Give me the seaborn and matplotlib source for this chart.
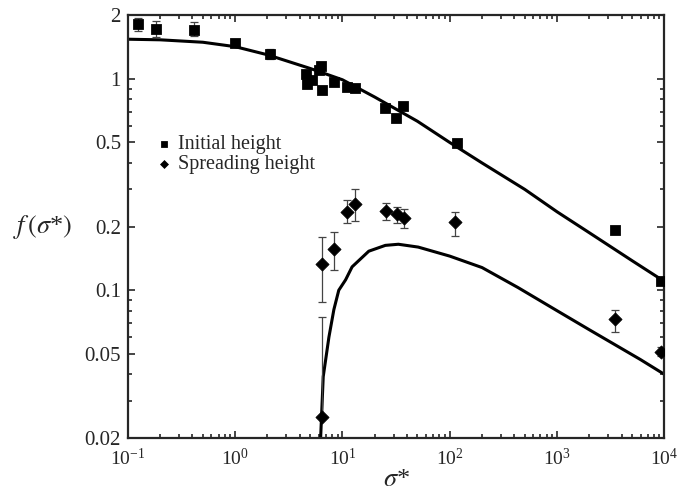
import numpy as np
import pandas as pd
import matplotlib
matplotlib.use("Agg")
import matplotlib.pyplot as plt
from matplotlib.ticker import FixedLocator, NullFormatter, LogLocator
import seaborn as sns

# --- data ---
# initial height (squares)
init_x = [0.125, 0.184, 0.412, 1.0, 2.12, 4.6, 4.7, 5.24, 6.04, 6.3, 6.4, 8.32,
          11.06, 13.2, 25.1, 31.7, 36.6, 115.9, 3459, 9250]
init_y = [1.81, 1.73, 1.71, 1.48, 1.31, 1.05, 0.95, 0.985, 1.10, 1.15, 0.89, 0.97,
          0.916, 0.905, 0.724, 0.656, 0.745, 0.498, 0.192, 0.111]
init_hi = [1.93, 1.88, 1.85, 1.48, 1.39, 1.05, 0.95, 0.985, 1.10, 1.18, 0.92, 0.97,
           0.916, 0.905, 0.724, 0.656, 0.745, 0.51, 0.198, 0.111]
init_lo = [1.69, 1.57, 1.60, 1.48, 1.24, 1.05, 0.95, 0.985, 1.10, 1.12, 0.87, 0.97,
           0.916, 0.905, 0.724, 0.656, 0.745, 0.485, 0.186, 0.111]

# spreading height (diamonds)
spread_x = [6.4, 6.4, 8.32, 11.1, 13.2, 25.4, 32.1, 37.1, 112, 3459, 9250]
spread_y = [0.0252, 0.133, 0.156, 0.235, 0.255, 0.238, 0.229, 0.219, 0.21, 0.0728, 0.0512]
spread_hi = [0.0744, 0.178, 0.188, 0.266, 0.300, 0.258, 0.247, 0.242, 0.235, 0.081, 0.054]
spread_lo = [0.0252, 0.088, 0.125, 0.207, 0.213, 0.216, 0.209, 0.196, 0.18, 0.0637, 0.049]

# model curves
curve1_x = [0.1, 0.2, 0.5, 1, 2, 5, 10, 20, 50, 100, 200, 500, 1000, 2000, 5000, 10000]
curve1_y = [1.54, 1.53, 1.49, 1.42, 1.30, 1.12, 0.99, 0.82, 0.63, 0.50, 0.40, 0.30,
            0.235, 0.187, 0.138, 0.11]
curve2_x = [6.26, 6.62, 7.48, 8.32, 9.24, 10.7, 12.3, 17.6, 25.1, 33.2, 50.8, 100,
            200, 432, 1000, 2000, 5980, 10000]
curve2_y = [0.02, 0.039, 0.060, 0.081, 0.100, 0.112, 0.129, 0.153, 0.163, 0.165,
            0.160, 0.145, 0.128, 0.103, 0.080, 0.065, 0.047, 0.040]

ytick_vals = [0.02, 0.05, 0.1, 0.2, 0.5, 1, 2]
ytick_labels = ["0.02", "0.05", "0.1", "0.2", "0.5", "1", "2"]

sns.set_style("ticks")
plt.rcParams["font.family"] = ["Liberation Serif", "DejaVu Serif"]
plt.rcParams["mathtext.fontset"] = "stix"

fig = plt.figure(figsize=(6.8, 4.91), dpi=100)
ax = fig.add_axes([0.188, 0.108, 0.789, 0.861])
ax.set_xscale("log")
ax.set_yscale("log")

c1 = pd.DataFrame({"x": curve1_x, "y": curve1_y})
c2 = pd.DataFrame({"x": curve2_x, "y": curve2_y})
sns.lineplot(data=c1, x="x", y="y", ax=ax, color="black", lw=2.2, sort=False, estimator=None)
sns.lineplot(data=c2, x="x", y="y", ax=ax, color="black", lw=2.2, sort=False, estimator=None)

init_y_a = np.array(init_y)
spread_y_a = np.array(spread_y)
ax.errorbar(init_x, init_y, yerr=[init_y_a - np.array(init_lo), np.array(init_hi) - init_y_a],
            fmt="none", ecolor="#444444", elinewidth=0.9, capsize=3, capthick=0.9)
ax.errorbar(spread_x, spread_y, yerr=[spread_y_a - np.array(spread_lo), np.array(spread_hi) - spread_y_a],
            fmt="none", ecolor="#444444", elinewidth=0.9, capsize=3, capthick=0.9)

sns.scatterplot(x=init_x, y=init_y, ax=ax, marker="s", s=50, color="black",
                edgecolor="black", label="Initial height", zorder=5)
sns.scatterplot(x=spread_x, y=spread_y, ax=ax, marker="D", s=45, color="black",
                edgecolor="black", label="Spreading height", zorder=5)

ax.set_xlim(0.1, 1e4)
ax.set_ylim(0.02, 2)
ax.xaxis.set_major_locator(LogLocator(base=10, numticks=10))
ax.xaxis.set_minor_locator(LogLocator(base=10, subs=np.arange(2, 10), numticks=10))
ax.yaxis.set_major_locator(FixedLocator(ytick_vals))
ax.set_yticklabels(ytick_labels)
ax.yaxis.set_minor_locator(LogLocator(base=10, subs=np.arange(2, 10), numticks=10))
ax.yaxis.set_minor_formatter(NullFormatter())

for s in ax.spines.values():
    s.set_visible(True)
    s.set_linewidth(1.6)
ax.tick_params(which="both", direction="in", top=True, right=True, width=1.2, labelsize=15)
ax.tick_params(which="major", length=5)
ax.tick_params(which="minor", length=3)
ax.tick_params(axis="x", which="major", pad=7, labelsize=14)
ax.tick_params(axis="y", which="major", pad=5)

ax.set_xlabel(r"$\sigma$*", fontsize=19, labelpad=0)
ax.set_ylabel(r"$f\,(\sigma$*$)$", fontsize=19, rotation=0, va="center", ha="center")
ax.yaxis.set_label_coords(-0.16, 0.5)

ax.legend(loc="upper left", bbox_to_anchor=(0.018, 0.75), frameon=False, fontsize=14.5,
          markerscale=0.6, handletextpad=0.1, handlelength=1.2, labelspacing=0.05, borderpad=0.2)

fig.savefig("out.png", dpi=100)
